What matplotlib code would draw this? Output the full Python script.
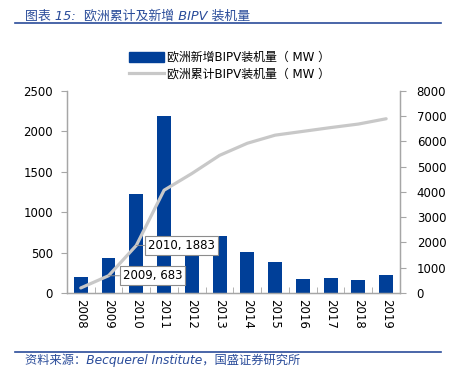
import matplotlib

matplotlib.use("Agg")

import matplotlib.pyplot as plt
from matplotlib.lines import Line2D

plt.rcParams["font.family"] = ["DejaVu Sans", "Noto Sans CJK SC"]

YEARS = ["2008", "2009", "2010", "2011", "2012", "2013",
         "2014", "2015", "2016", "2017", "2018", "2019"]
NEW_MW = [200, 430, 1220, 2190, 640, 700, 510, 380, 170, 180, 155, 225]
CUM_MW = [200, 683, 1883, 4070, 4730, 5450, 5930, 6250, 6400, 6550, 6690, 6900]
LEFT_TICKS = [0, 500, 1000, 1500, 2000, 2500]
RIGHT_TICKS = [0, 1000, 2000, 3000, 4000, 5000, 6000, 7000, 8000]

BAR_LABEL = "欧洲新增BIPV装机量（ MW ）"
LINE_LABEL = "欧洲累计BIPV装机量（ MW ）"
TITLE = "图表 15:  欧洲累计及新增 BIPV 装机量"
SOURCE = "资料来源：Becquerel Institute，国盛证券研究所"

BLUE = "#003f98"
GREY_LINE = "#c8c8c8"
SPINE = "#a6a6a6"
HEAD = "#2a4c9a"

fig = plt.figure(figsize=(4.52, 3.73), dpi=100)
ax = fig.add_axes([0.148, 0.2145, 0.737, 0.5416])
ax2 = ax.twinx()

x = list(range(len(YEARS)))
ax.bar(x, NEW_MW, width=0.5, color=BLUE, zorder=2)
ax2.plot(x, CUM_MW, color=GREY_LINE, lw=2.3, solid_capstyle="round", zorder=3)

ax.set_xlim(-0.5, len(YEARS) - 0.5)
ax.set_ylim(0, 2500)
ax2.set_ylim(0, 8000)
ax.set_yticks(LEFT_TICKS)
ax2.set_yticks(RIGHT_TICKS)

ax.set_xticks(x)
ax.set_xticklabels(YEARS, rotation=-90, fontsize=8.5)
ax.set_xticks([i - 0.5 for i in range(len(YEARS) + 1)], minor=True)
ax.tick_params(axis="x", which="major", length=0, pad=4)
ax.tick_params(axis="x", which="minor", length=4, direction="in", color=SPINE)
ax.tick_params(axis="y", labelsize=8.5, length=4, color=SPINE, pad=6)
ax2.tick_params(axis="y", labelsize=8.5, length=4, color=SPINE, pad=8)

for a in (ax, ax2):
    a.spines["top"].set_visible(False)
    for s in ("left", "right", "bottom"):
        a.spines[s].set_color(SPINE)
        a.spines[s].set_linewidth(0.9)

# data labels for the cumulative line
box = dict(boxstyle="square,pad=0.25", fc="white", ec="#8c8c8c", lw=0.8)
for idx, dx in ((1, 44), (2, 45)):
    ax2.annotate(f"{YEARS[idx]}, {CUM_MW[idx]}", xy=(idx, CUM_MW[idx]),
                 xytext=(dx, 0), textcoords="offset pixels",
                 ha="center", va="center", fontsize=8.5, bbox=box,
                 arrowprops=dict(arrowstyle="-", color="#8c8c8c", lw=0.7,
                                 shrinkA=0, shrinkB=0),
                 zorder=5)

handles = [
    plt.Rectangle((0, 0), 1, 1, fc=BLUE, ec=BLUE),
    Line2D([0], [0], color=GREY_LINE, lw=2.3),
]
fig.legend(handles, [BAR_LABEL, LINE_LABEL], loc="upper left",
           bbox_to_anchor=(0.272, 0.88), frameon=False, fontsize=8.6,
           handlelength=2.9, handleheight=0.9, handletextpad=0.25,
           labelspacing=0.35, borderpad=0)

# header and footer
fig.text(0.055, 0.975, TITLE, fontsize=9.3, color=HEAD, style="italic",
         va="top", ha="left")
fig.add_artist(Line2D([0.033, 0.975], [0.937, 0.937], color=HEAD, lw=1.2))
fig.add_artist(Line2D([0.033, 0.975], [0.057, 0.057], color=HEAD, lw=1.2))
fig.text(0.055, 0.033, SOURCE, fontsize=8.8, color=HEAD, style="italic",
         va="center", ha="left")

fig.savefig("out.png", dpi=100)
plt.close(fig)
